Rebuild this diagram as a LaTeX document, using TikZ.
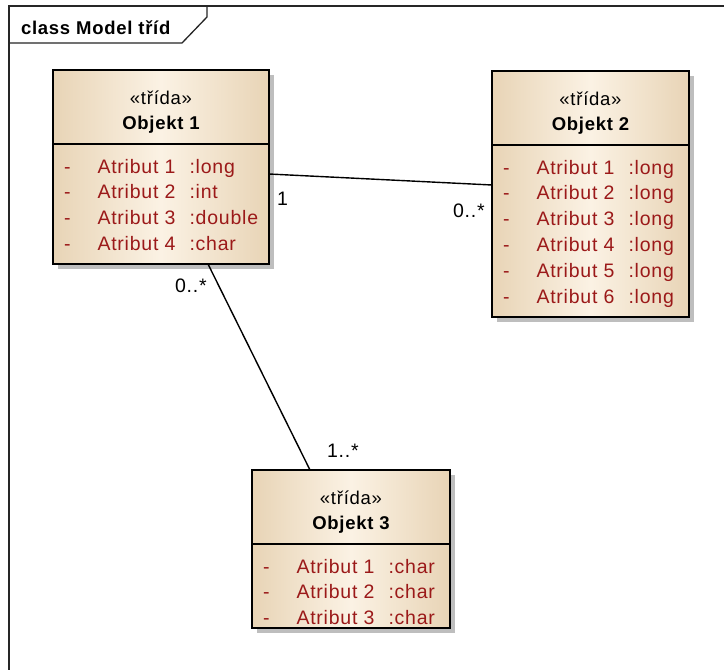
\documentclass[tikz,border=0pt]{standalone}
\usepackage{fontspec}
\setmainfont{Liberation Sans}[LetterSpace=4]
\usetikzlibrary{shadows}

\definecolor{umltan}{RGB}{232,212,182}
\definecolor{umlcream}{RGB}{251,242,228}
\definecolor{umlattr}{RGB}{155,25,25}
\definecolor{umlshadow}{RGB}{190,190,190}

\tikzset{
  classbox/.style={draw=black, line width=1.8pt, anchor=north west,
    inner sep=0pt, outer sep=0pt,
    left color=umltan, right color=umltan, middle color=umlcream,
    drop shadow={shadow xshift=5pt, shadow yshift=-5pt, fill=umlshadow, opacity=1}},
  sepline/.style={draw=black, line width=1.8pt},
  frameline/.style={draw=black!85, line width=1.3pt},
  assoc/.style={draw=black, line width=1.4pt},
  basetext/.style={inner sep=0pt, outer sep=0pt, font=\fontsize{19.5pt}{23pt}\selectfont},
  headtext/.style={basetext, anchor=base west, font=\fontsize{18.5pt}{22pt}\selectfont\bfseries},
  stereo/.style={basetext, anchor=base, font=\fontsize{18.5pt}{22pt}\selectfont},
  classname/.style={basetext, anchor=base, font=\fontsize{18.5pt}{22pt}\selectfont\bfseries},
  attrtext/.style={basetext, anchor=base west, text=umlattr},
  mult/.style={basetext, anchor=base west},
}

% one attribute row: box name, row number, type
\newcommand{\umlattr}[3]{%
  \pgfmathsetmacro{\rowdy}{-103-25.8*(#2-1)}%
  \node[attrtext] (#1d#2) at ([xshift=11pt,yshift=\rowdy pt]#1.north west) {-};
  \node[attrtext] (#1n#2) at ([xshift=44.5pt,yshift=\rowdy pt]#1.north west) {Atribut #2};
  \node[attrtext] (#1t#2) at ([xshift=136.5pt,yshift=\rowdy pt]#1.north west) {:#3};
}

% class header and separator: box name, class title
\newcommand{\umlhead}[2]{%
  \node[stereo] (#1st) at ([yshift=-34pt]#1.north) {«třída»};
  \node[classname] (#1nm) at ([yshift=-59pt]#1.north) {#2};
  \draw[sepline] ([yshift=-74pt]#1.north west) -- ([yshift=-74pt]#1.north east);
}

\begin{document}
\begin{tikzpicture}[x=1pt,y=-1pt]
  \useasboundingbox (0,0) rectangle (724,670);
  \fill[white] (0,0) rectangle (724,670);

  % diagram frame with its name tab
  \draw[frameline] (9,670) -- (9,6) -- (724,6);
  \draw[frameline] (9,43) -- (182,43) -- (207,17) -- (207,6);
  \node[headtext] (title) at (21,34) {class Model tříd};

  % classes
  \node[classbox, minimum width=216pt, minimum height=194pt] (o1) at (53,70) {};
  \node[classbox, minimum width=197pt, minimum height=246pt] (o2) at (492,71) {};
  \node[classbox, minimum width=198pt, minimum height=158pt] (o3) at (252,470) {};

  \umlhead{o1}{Objekt 1}
  \umlattr{o1}{1}{long}
  \umlattr{o1}{2}{int}
  \umlattr{o1}{3}{double}
  \umlattr{o1}{4}{char}

  \umlhead{o2}{Objekt 2}
  \umlattr{o2}{1}{long}
  \umlattr{o2}{2}{long}
  \umlattr{o2}{3}{long}
  \umlattr{o2}{4}{long}
  \umlattr{o2}{5}{long}
  \umlattr{o2}{6}{long}

  \umlhead{o3}{Objekt 3}
  \umlattr{o3}{1}{char}
  \umlattr{o3}{2}{char}
  \umlattr{o3}{3}{char}

  % associations
  \draw[assoc] ([yshift=-104pt]o1.north east) -- ([yshift=-114pt]o2.north west);
  \draw[assoc] ([xshift=155pt]o1.south west) -- ([xshift=58pt]o3.north west);

  % multiplicities
  \node[mult] (m1) at (277,205) {1};
  \node[mult] (m2) at (453,217) {0..*};
  \node[mult] (m3) at (175,292) {0..*};
  \node[mult] (m4) at (327,457) {1..*};
\end{tikzpicture}
\end{document}
